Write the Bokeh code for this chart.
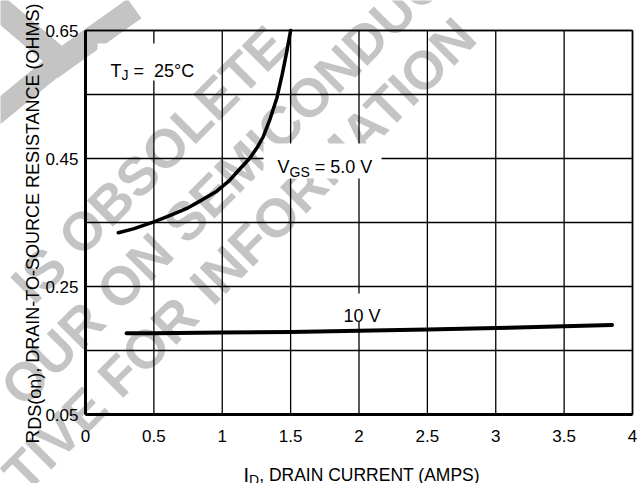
import math
from bokeh.plotting import figure
from bokeh.models import Range1d, FixedTicker, NumeralTickFormatter, Label
from bokeh.core.properties import value
from bokeh.embed import file_html
from bokeh.resources import INLINE

# ---------------- data ----------------
id_5v = [0.24, 0.35, 0.50, 0.62, 0.75, 0.85, 0.96, 1.05, 1.13, 1.20, 1.255, 1.30, 1.35, 1.40, 1.44, 1.47, 1.50]
rds_5v = [0.334, 0.340, 0.351, 0.361, 0.373, 0.385, 0.399, 0.415, 0.434, 0.450, 0.467, 0.484, 0.512, 0.545, 0.583, 0.615, 0.65]
id_10v = [0.30, 0.50, 1.00, 1.50, 2.00, 2.50, 3.00, 3.50, 3.85]
rds_10v = [0.177, 0.177, 0.178, 0.179, 0.181, 0.183, 0.185, 0.188, 0.190]
x_ticks = [0, 0.5, 1, 1.5, 2, 2.5, 3, 3.5, 4]
y_ticks = [0.05, 0.25, 0.45, 0.65]
y_grid = [0.05, 0.15, 0.25, 0.35, 0.45, 0.55, 0.65]
x_lim = (0, 4)
y_lim = (0.05, 0.65)

FONT = "Liberation Sans"
WM_COLOR = "#c4c4c4"
W_PX, H_PX = 644, 483

# page-pixel -> data helpers (plot box: x 85..632 for 0..4, y 30..414 for 0.65..0.05)
def px2x(px):
    return (px - 85) / 136.75

def py2y(py):
    return 0.65 - (py - 30) / 640.0

# Arial / Liberation Sans advance widths (per 1000 em)
W = {' ': 278, ',': 278, '-': 333, '(': 333, ')': 333, '.': 278, '=': 584, '\u00b0': 400,
     'A': 667, 'B': 667, 'C': 722, 'D': 722, 'E': 667, 'F': 611, 'G': 778, 'H': 722,
     'I': 278, 'J': 500, 'K': 667, 'L': 556, 'M': 833, 'N': 722, 'O': 778, 'P': 667,
     'R': 722, 'S': 667, 'T': 611, 'U': 722, 'V': 667, 'o': 556, 'n': 556}

def tw(s, size):
    return sum(W.get(c, 556) for c in s) * size / 1000.0

# The frame covers the whole canvas so nothing (watermark, titles) is clipped.
p = figure(width=W_PX, height=H_PX, title=None,
           x_range=Range1d(px2x(0), px2x(W_PX)), y_range=Range1d(py2y(H_PX), py2y(0)),
           output_backend="svg", toolbar_location=None,
           min_border_left=0, min_border_right=0, min_border_top=0, min_border_bottom=0)
p.background_fill_color = "white"
p.border_fill_color = "white"
p.outline_line_color = None
p.xgrid.visible = False
p.ygrid.visible = False

# axes, fixed inside the frame at the plot-box edges
p.xaxis.fixed_location = y_lim[0]
p.xaxis.bounds = x_lim
p.yaxis.fixed_location = x_lim[0]
p.yaxis.bounds = y_lim
p.xaxis.ticker = FixedTicker(ticks=x_ticks)
p.xaxis.formatter = NumeralTickFormatter(format="0.[0]")
p.yaxis.ticker = FixedTicker(ticks=y_ticks)
p.yaxis.formatter = NumeralTickFormatter(format="0.00")
for ax in (p.xaxis, p.yaxis):
    ax.axis_line_width = 3
    ax.axis_line_color = "black"
    ax.major_tick_line_color = None
    ax.minor_tick_line_color = None
    ax.major_tick_in = 0
    ax.major_tick_out = 0
    ax.major_label_text_font = FONT
    ax.major_label_text_font_size = "17px"
    ax.major_label_text_color = "black"
p.xaxis.major_label_standoff = 15
p.yaxis.major_label_standoff = 7

# ---------------- watermark (drawn first, lowest level) ----------------
wm_words = [("IS", (38, 274)), ("OBSOLETE", (172, 140)),
            ("OUR", (52, 353)), ("ON", (134, 271)), ("SEMICONDUCTOR", (343, 62)),
            ("TIVE", (54, 439)), ("FOR", (147, 346)), ("INFORMATION", (332, 160))]
p.text(x=[px2x(c[0]) for _, c in wm_words], y=[py2y(c[1]) for _, c in wm_words],
       text=[w for w, _ in wm_words], angle=45, angle_units="deg",
       text_font=value(FONT), text_font_style="bold", text_font_size=value("54px"),
       text_color=WM_COLOR, text_align="center", text_baseline="middle", level="image")

def band(p0, p1, w):
    (x0, y0), (x1, y1) = p0, p1
    dx, dy = x1 - x0, y1 - y0
    L = math.hypot(dx, dy)
    nx, ny = -dy / L * w / 2, dx / L * w / 2
    pts = [(x0 + nx, y0 + ny), (x1 + nx, y1 + ny), (x1 - nx, y1 - ny), (x0 - nx, y0 - ny)]
    return [px2x(a) for a, _ in pts], [py2y(b) for _, b in pts]

bands = [band(*b) for b in [((-8, 2), (60, 60), 24), ((50, 68), (134, 8), 24),
                            ((58, 62), (-8, 116), 22)]]
p.patches([b[0] for b in bands], [b[1] for b in bands], fill_color=WM_COLOR,
          line_color=None, level="image")

# ---------------- grid and box border ----------------
p.segment(x0=x_ticks, y0=[y_lim[0]] * len(x_ticks), x1=x_ticks, y1=[y_lim[1]] * len(x_ticks),
          line_color="black", line_width=1.3, level="underlay")
p.segment(x0=[x_lim[0]] * len(y_grid), y0=y_grid, x1=[x_lim[1]] * len(y_grid), y1=y_grid,
          line_color="black", line_width=1.3, level="underlay")
p.segment(x0=[x_lim[0], x_lim[1]], y0=[y_lim[1], y_lim[0]], x1=[x_lim[1], x_lim[1]],
          y1=[y_lim[1], y_lim[1]], line_color="black", line_width=1.6, level="underlay")

# white boxes behind in-plot labels
bx = [(97, 43, 205, 80), (263, 143, 381, 178), (336, 293, 388, 321)]
p.quad(left=[px2x(b[0]) for b in bx], right=[px2x(b[2]) for b in bx],
       top=[py2y(b[1]) for b in bx], bottom=[py2y(b[3]) for b in bx],
       fill_color="white", line_color=None)

# ---------------- curves ----------------
p.line(id_5v, rds_5v, line_color="black", line_width=3.5, line_cap="round", line_join="round")
p.line(id_10v, rds_10v, line_color="black", line_width=4, line_cap="round", line_join="round")

# ---------------- texts ----------------
def h_segments(segs, x0, base):
    x = x0
    for text, size, dy, gap in segs:
        x += gap
        p.add_layout(Label(x=px2x(x), y=py2y(base + dy), text=text, text_font=FONT,
                           text_font_size=f"{size}px", text_color="black",
                           text_align="left", text_baseline="alphabetic"))
        x += tw(text, size)

def v_segments(segs, basex, y0):
    y = y0
    for text, size, dx, gap in segs:
        y -= gap
        p.add_layout(Label(x=px2x(basex + dx), y=py2y(y), text=text, text_font=FONT,
                           text_font_size=f"{size}px", text_color="black",
                           text_align="left", text_baseline="alphabetic",
                           angle=90, angle_units="deg"))
        y -= tw(text, size)

sp18 = tw(" ", 18)
h_segments([("T", 18, 0, 0), ("J", 14, 4, 0), ("=", 18, 0, sp18), ("25\u00b0C", 18, 0, 2 * sp18)],
           110, 70)
h_segments([("V", 18, 0, 0), ("GS", 14, 5, 0), ("= 5.0 V", 18, 0, sp18)], 277, 166)
h_segments([("10 V", 18, 0, 0)], 343, 315)
# axis titles
h_segments([("I", 20, 0, 0), ("D", 14, 5, 0), (", DRAIN CURRENT (AMPS)", 17.5, 0, 0)], 243, 474)
v_segments([("R", 19, 0, 0), ("DS(on)", 18, 2, 0), (", DRAIN-TO-SOURCE RESISTANCE (OHMS)", 18, 0, 0)],
           32, 443)

open("out.html", "w").write(file_html(p, INLINE))
